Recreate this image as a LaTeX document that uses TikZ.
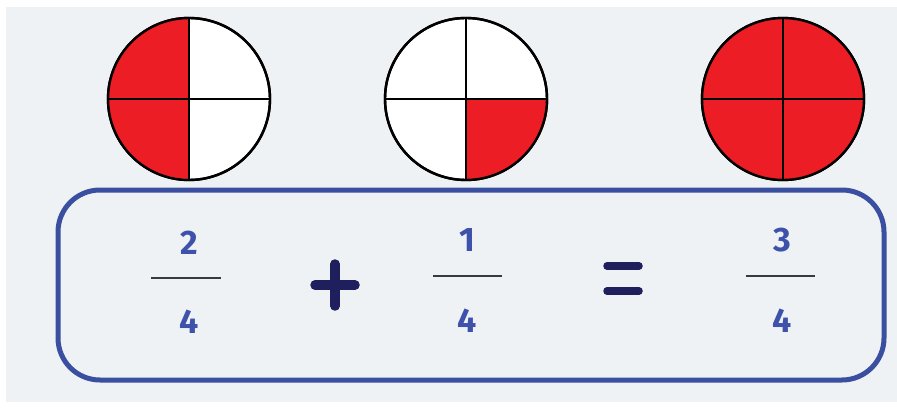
\documentclass[tikz,border=0pt]{standalone}
\usepackage{fontspec}
\setmainfont{Fira Sans}
\definecolor{bgc}{HTML}{EEF2F5}
\definecolor{qred}{HTML}{EC1D24}
\definecolor{boxblue}{HTML}{3B4FA0}
\definecolor{digblue}{HTML}{3E52AC}
\definecolor{opnavy}{HTML}{1F1F5E}
\definecolor{barc}{HTML}{3A3A3A}
\begin{document}
\begin{tikzpicture}[x=1pt,y=-1pt,
  pie/.style={circle,minimum size=162pt,inner sep=0pt,draw=black,line width=2.4pt},
  digit/.style={text=digblue,font=\fontsize{34}{36}\selectfont\bfseries,inner sep=0pt},
  fbar/.style={draw=barc,line width=2.6pt},
  op/.style={draw=opnavy,line width=9.5pt,line cap=round},
  eq/.style={draw=opnavy,line width=7.5pt,line cap=round}]
\useasboundingbox (0,0) rectangle (897,409);
\fill[white] (0,0) rectangle (897,409);
\fill[bgc] (6,7) rectangle (897,402);
% pies
\node[pie,fill=white] (p1) at (189,99) {};
\node[pie,fill=white] (p2) at (466,99) {};
\node[pie,fill=white] (p3) at (783,99) {};
\fill[qred] (p1.center) -- (p1.north) arc[start angle=270,end angle=90,radius=81] -- cycle;
\fill[qred] (p2.center) -- (p2.east) arc[start angle=0,end angle=90,radius=81] -- cycle;
\fill[qred] (p3.center) circle[radius=81];
\foreach \p in {p1,p2,p3}{
  \draw[black,line width=2.4pt] (\p.center) circle[radius=81];
  \draw[black,line width=2.4pt] (\p.north) -- (\p.south);
  \draw[black,line width=2.4pt] (\p.west) -- (\p.east);
}
% box
\node[draw=boxblue,line width=5pt,rounded corners=42pt,minimum width=826pt,minimum height=190pt] (box) at (471,285) {};
% fractions
\node[digit] (n1) at (189,243) {2};
\node[digit] (d1) at (189,322) {4};
\coordinate (b1l) at (151,278); \coordinate (b1r) at (221,278);
\draw[fbar] (b1l) -- (b1r);
\node[digit] (n2) at (467,240) {1};
\node[digit] (d2) at (467,321) {4};
\coordinate (b2l) at (433,276); \coordinate (b2r) at (502,276);
\draw[fbar] (b2l) -- (b2r);
\node[digit] (n3) at (782,240) {3};
\node[digit] (d3) at (782,321) {4};
\coordinate (b3l) at (746,276); \coordinate (b3r) at (815,276);
\draw[fbar] (b3l) -- (b3r);
% operators
\coordinate (pl) at (315,285); \coordinate (pr) at (355,285);
\coordinate (pt) at (335,264); \coordinate (pb) at (335,306);
\draw[op] (pl) -- (pr);
\draw[op] (pt) -- (pb);
\coordinate (e1l) at (607,266); \coordinate (e1r) at (639,266);
\coordinate (e2l) at (607,291); \coordinate (e2r) at (639,291);
\draw[eq] (e1l) -- (e1r);
\draw[eq] (e2l) -- (e2r);
\end{tikzpicture}
\end{document}
